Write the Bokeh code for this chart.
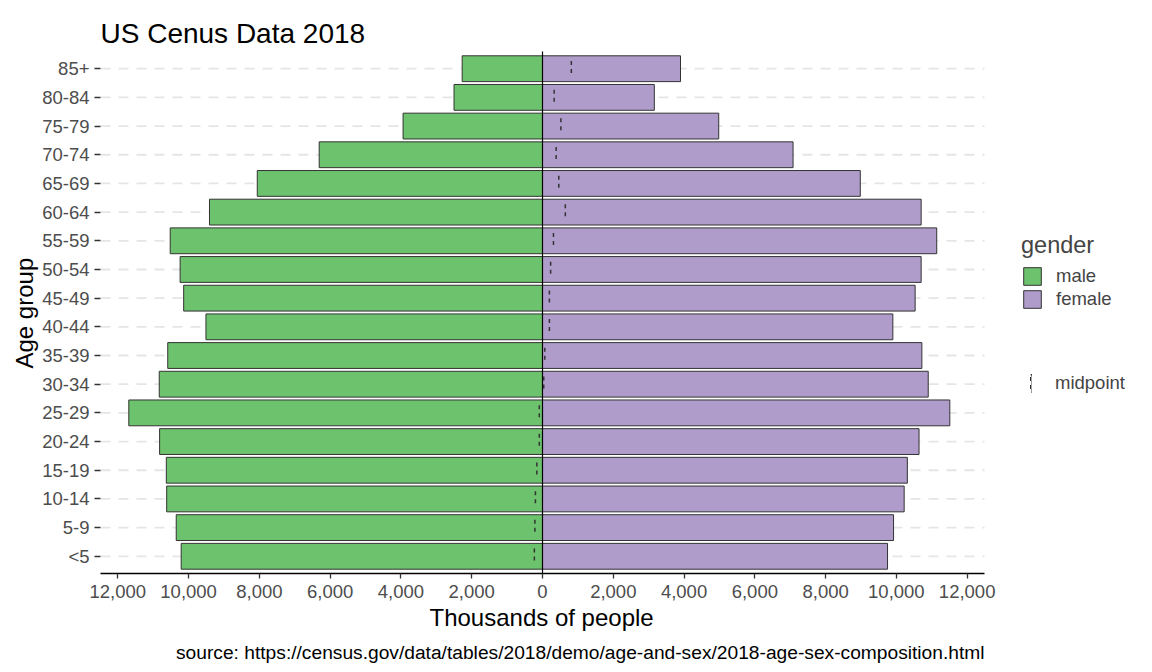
from bokeh.plotting import figure
from bokeh.models import (Range1d, FixedTicker, Legend, LegendItem, Title, Label,
                          ColumnDataSource)
from bokeh.embed import file_html
from bokeh.resources import INLINE

# ---- data (thousands of people), bottom to top ----
age_groups = ["<5", "5-9", "10-14", "15-19", "20-24", "25-29", "30-34", "35-39",
              "40-44", "45-49", "50-54", "55-59", "60-64", "65-69", "70-74",
              "75-79", "80-84", "85+"]
male = [10210, 10350, 10620, 10630, 10820, 11690, 10830, 10590, 9510, 10140,
        10240, 10520, 9410, 8060, 6310, 3940, 2500, 2270]
female = [9750, 9920, 10220, 10310, 10640, 11510, 10900, 10720, 9900, 10530,
          10700, 11140, 10700, 8980, 7080, 4980, 3160, 3900]
x_tick_values = [-12000, -10000, -8000, -6000, -4000, -2000, 0,
                 2000, 4000, 6000, 8000, 10000, 12000]
x_tick_labels = ["12,000", "10,000", "8,000", "6,000", "4,000", "2,000", "0",
                 "2,000", "4,000", "6,000", "8,000", "10,000", "12,000"]
title_text = "US Cenus Data 2018"
x_label_text = "Thousands of people"
y_label_text = "Age group"
caption_text = "source: https://census.gov/data/tables/2018/demo/age-and-sex/2018-age-sex-composition.html"

FONT = "Liberation Sans"
GREEN = "#6DC26D"
PURPLE = "#AF9CCB"

# layout: the panel spans 884 x 522 px; the frame extends right and up
AXIS_LIM = 12490
PANEL_W, FRAME_W = 884, 1052
PANEL_H, FRAME_H = 522, 573
Y_LO, Y_HI = -0.6, 17.6
x_end = -AXIS_LIM + 2 * AXIS_LIM * FRAME_W / PANEL_W
y_end = Y_LO + (Y_HI - Y_LO) * FRAME_H / PANEL_H

ys = list(range(len(age_groups)))
src = ColumnDataSource(dict(
    y=ys,
    male_left=[-m for m in male],
    female=female,
    mid=[(f - m) / 2 for m, f in zip(male, female)],
    mid_top=[y + 0.27 for y in ys],
    mid_bot=[y - 0.27 for y in ys],
))

p = figure(width=1152, height=672,
           x_range=Range1d(-AXIS_LIM, x_end), y_range=Range1d(Y_LO, y_end),
           output_backend="svg", toolbar_location=None,
           min_border_left=100, min_border_right=0,
           min_border_top=0, min_border_bottom=99)

# dashed horizontal grid lines limited to the panel extent
p.segment(x0=[-AXIS_LIM] * len(ys), x1=[AXIS_LIM] * len(ys), y0=ys, y1=ys,
          line_color="#E5E5E5", line_width=1.8, line_dash="10 8")

r_m = p.hbar(y="y", left="male_left", right=0, height=0.9, source=src,
             fill_color=GREEN, line_color="#333333", line_width=1)
r_f = p.hbar(y="y", left=0, right="female", height=0.9, source=src,
             fill_color=PURPLE, line_color="#333333", line_width=1)
# zero line across the panel
p.segment(x0=[0], x1=[0], y0=[Y_LO], y1=[Y_HI], line_color="black", line_width=1.2)
p.segment(x0="mid", y0="mid_top", x1="mid", y1="mid_bot", source=src,
          line_color="#333333", line_width=1.5, line_dash="4 4")
# hidden twin of the midpoint marks, used only for the legend key
r_key = p.rect(x="mid", y="y", width=0, height=0.54, source=src, fill_alpha=0,
               line_color="#333333", line_width=1.5, line_dash="4 4", visible=False)

# axes
p.xaxis.ticker = FixedTicker(ticks=x_tick_values)
p.xaxis.major_label_overrides = {v: l for v, l in zip(x_tick_values, x_tick_labels)}
p.xaxis.bounds = (-AXIS_LIM, AXIS_LIM)
p.yaxis.ticker = FixedTicker(ticks=ys)
p.yaxis.major_label_overrides = {y: l for y, l in zip(ys, age_groups)}
for ax in (p.xaxis[0], p.yaxis[0]):
    ax.major_label_text_font = FONT
    ax.major_label_text_font_size = "18.5px"
    ax.major_label_text_color = "#4D4D4D"
    ax.minor_tick_line_color = None
    ax.major_tick_in = 0
    ax.major_tick_line_color = "#333333"
    ax.major_tick_line_width = 1.3
p.xaxis.axis_line_color = "black"
p.xaxis.axis_line_width = 1.3
p.xaxis.major_tick_out = 5
p.xaxis.major_label_standoff = 6
p.yaxis.axis_line_color = None
p.yaxis.major_tick_out = 6
p.yaxis.major_label_standoff = 5

p.grid.visible = False
p.outline_line_color = None

# y-axis title centred beside the panel
p.add_layout(Title(text=y_label_text, align="left", offset=205, standoff=4,
                   text_font=FONT, text_font_size="24px", text_font_style="normal",
                   text_color="black"), "left")
# x-axis title centred under the panel, then the caption
p.add_layout(Title(text=x_label_text, align="left", offset=329, standoff=2,
                   text_font=FONT, text_font_size="24px", text_font_style="normal",
                   text_color="black"), "below")
p.add_layout(Title(text=caption_text, align="right", offset=FRAME_W - PANEL_W,
                   standoff=16, text_font=FONT, text_font_size="19.2px",
                   text_font_style="normal", text_color="black"), "below")

# chart title
p.add_layout(Label(x=0, y=FRAME_H - 33, x_units="screen", y_units="screen",
                   text=title_text, text_font=FONT, text_font_size="28px",
                   text_color="black", text_baseline="alphabetic"))

leg1 = Legend(items=[LegendItem(label="male", renderers=[r_m]),
                     LegendItem(label="female", renderers=[r_f])],
              title="gender", location=(921, 263),
              glyph_width=22, glyph_height=22, spacing=1, padding=0, margin=0,
              border_line_color=None, background_fill_alpha=0,
              label_text_font=FONT, label_text_font_size="18.5px",
              title_text_font=FONT, title_text_font_size="23.5px",
              title_text_font_style="normal", label_standoff=13, title_standoff=6)
p.add_layout(leg1)

leg2 = Legend(items=[LegendItem(label="midpoint", renderers=[r_key])],
              location=(930, 179),
              glyph_width=2, glyph_height=22, padding=0, margin=0,
              border_line_color=None, background_fill_alpha=0,
              inactive_fill_alpha=0,
              label_text_font=FONT, label_text_font_size="18.5px",
              label_standoff=23)
p.add_layout(leg2)

open("out.html", "w").write(file_html(p, INLINE))
